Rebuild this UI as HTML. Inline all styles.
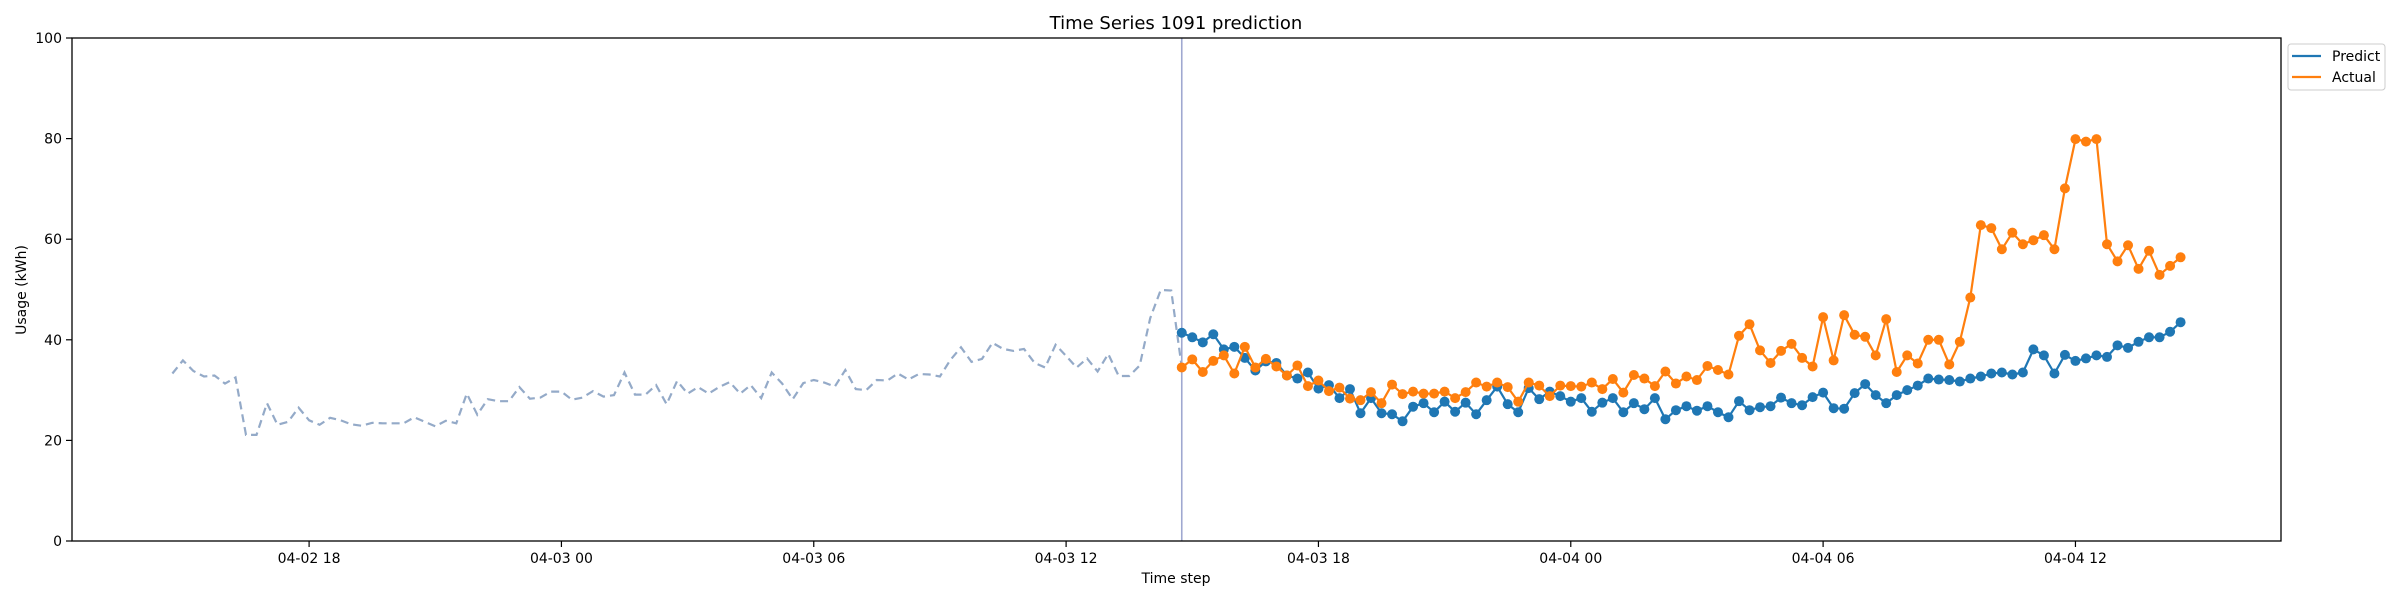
<!DOCTYPE html>
<html><head><meta charset="utf-8"><style>
html,body{margin:0;padding:0;background:#fff;}
svg text{font-family:"DejaVu Sans","Liberation Sans",sans-serif;fill:#000;}
</style></head><body>
<svg id="chart" width="2400" height="600" viewBox="0 0 2400 600" xmlns="http://www.w3.org/2000/svg">
<rect width="2400" height="600" fill="#fff"/>
<text x="1176" y="29" font-size="18" text-anchor="middle">Time Series 1091 prediction</text>
<text x="1176" y="583" font-size="14" text-anchor="middle">Time step</text>
<text x="26" y="290" font-size="14" text-anchor="middle" transform="rotate(-90 26 290)">Usage (kWh)</text>
<g id="plot"></g>
<g>
<rect x="2288" y="44" width="97" height="46" rx="3" fill="#fff" stroke="#ccc" stroke-width="1"/>
<line x1="2292" y1="56" x2="2321" y2="56" stroke="#1f77b4" stroke-width="2.2"/>
<text x="2332" y="61" font-size="14">Predict</text>
<line x1="2292" y1="77" x2="2321" y2="77" stroke="#ff7f0e" stroke-width="2.2"/>
<text x="2332" y="82" font-size="14">Actual</text>
</g>
</svg>
<script>
const history = [33.3,35.9,33.8,32.7,32.9,31.3,32.5,21.1,21.1,27.4,23.1,23.7,26.5,24.0,23.1,24.5,24.0,23.2,22.9,23.5,23.4,23.4,23.4,24.6,23.7,22.8,23.9,23.4,29.3,25.1,28.2,27.8,27.8,30.6,28.3,28.5,29.7,29.7,28.1,28.5,29.8,28.7,29.0,33.5,29.1,29.1,31.0,27.2,31.8,29.3,30.6,29.3,30.6,31.6,29.3,31.0,28.4,33.5,31.3,28.2,31.4,32.0,31.5,30.7,34.0,30.2,30.0,32.0,31.9,33.3,32.1,33.2,33.1,32.7,36.0,38.5,35.6,36.2,39.4,38.2,37.8,38.2,35.4,34.5,39.0,36.8,34.5,36.3,33.7,37.2,32.8,32.8,34.9,44.3,49.9,49.8];
const predict = [41.4,40.5,39.5,41.1,38.1,38.6,36.4,33.9,35.7,35.4,32.9,32.3,33.5,30.3,31.0,28.4,30.2,25.4,28.4,25.4,25.2,23.8,26.7,27.4,25.6,27.7,25.7,27.5,25.2,28.0,30.7,27.2,25.6,30.4,28.2,29.7,28.8,27.7,28.4,25.7,27.5,28.4,25.6,27.4,26.2,28.4,24.2,26.0,26.8,25.9,26.8,25.6,24.6,27.8,26.0,26.6,26.8,28.5,27.4,27.0,28.6,29.5,26.4,26.3,29.4,31.2,29.0,27.4,29.0,30.0,30.9,32.3,32.1,32.0,31.7,32.3,32.7,33.3,33.5,33.1,33.5,38.1,36.9,33.3,37.0,35.8,36.3,36.9,36.6,38.9,38.4,39.6,40.5,40.5,41.6,43.5];
const actual = [34.5,36.1,33.6,35.8,36.9,33.3,38.6,34.5,36.2,34.7,32.9,34.9,30.8,31.9,29.8,30.5,28.3,28.0,29.6,27.4,31.1,29.2,29.7,29.3,29.3,29.7,28.4,29.6,31.5,30.7,31.5,30.6,27.7,31.5,30.9,28.8,30.9,30.8,30.7,31.5,30.2,32.2,29.5,33.0,32.3,30.8,33.7,31.3,32.7,32.0,34.8,34.0,33.1,40.8,43.1,37.9,35.4,37.8,39.2,36.4,34.7,44.5,35.9,44.9,41.0,40.6,36.9,44.1,33.6,36.9,35.3,40.0,40.0,35.1,39.6,48.4,62.8,62.2,58.0,61.3,59.0,59.8,60.8,58.0,70.1,79.9,79.4,79.9,59.0,55.6,58.8,54.1,57.7,52.9,54.7,56.4];
const yTicks = [0,20,40,60,80,100];
const xTickLabels = ["04-02 18","04-03 00","04-03 06","04-03 12","04-03 18","04-04 00","04-04 06","04-04 12"];
const xTickHours = [18,24,30,36,42,48,54,60];
const historyStartHour = 14.75; // 04-02 14:45
const stepHours = 0.25;

const L=72,R=2281,T=38,B=541;
const predStart = historyStartHour + history.length*stepHours;
const dataStart = historyStartHour, dataEnd = predStart + (predict.length-1)*stepHours;
const pad = (dataEnd-dataStart)*0.05;
const x0 = dataStart-pad, x1 = dataEnd+pad;
function sx(h){return L+(h-x0)/(x1-x0)*(R-L);}
function sy(v){return B-(v/100)*(B-T);}
const NS="http://www.w3.org/2000/svg";
const plot=document.getElementById('plot');
function mk(tag,attrs,parent){const e=document.createElementNS(NS,tag);for(const k in attrs)e.setAttribute(k,attrs[k]);(parent||plot).appendChild(e);return e;}

const histVals = history.concat([actual[0]]);
const histPts = histVals.map((v,i)=>sx(historyStartHour+i*stepHours).toFixed(1)+","+sy(v).toFixed(1)).join(" ");
const hl=mk('polyline',{points:histPts,fill:"none",stroke:"#94aac8","stroke-width":2.2,"stroke-dasharray":"8,5"});



const vl=mk('line',{x1:sx(predStart),x2:sx(predStart),y1:T,y2:B,stroke:"#9fa8d0","stroke-width":1.6});



function series(arr,color,name){
  const pts=arr.map((v,i)=>sx(predStart+i*stepHours).toFixed(1)+","+sy(v).toFixed(1)).join(" ");
  const pl=mk('polyline',{points:pts,fill:"none",stroke:color,"stroke-width":2.2,"stroke-linejoin":"round"});
  
  
  arr.forEach((v,i)=>{
    const c=mk('circle',{cx:sx(predStart+i*stepHours),cy:sy(v),r:5,fill:color});
    
    
  });
}
series(predict,"#1f77b4","predict");
series(actual,"#ff7f0e","actual");

const fr=mk('rect',{x:L,y:T,width:R-L,height:B-T,fill:"none",stroke:"#000","stroke-width":1.3});



yTicks.forEach(v=>{
  const y=sy(v);
  const t=mk('line',{x1:L-6,x2:L,y1:y,y2:y,stroke:"#000","stroke-width":1.2});
  
  
  const tx=mk('text',{x:L-10,y:y+5,"font-size":14,"text-anchor":"end"});
  tx.textContent=v;
  
  
});
xTickHours.forEach((h,i)=>{
  const x=sx(h);
  const t=mk('line',{x1:x,x2:x,y1:B,y2:B+6,stroke:"#000","stroke-width":1.2});
  
  
  const tx=mk('text',{x:x,y:B+22,"font-size":14,"text-anchor":"middle"});
  tx.textContent=xTickLabels[i];
  
  
});
</script>
</body></html>
